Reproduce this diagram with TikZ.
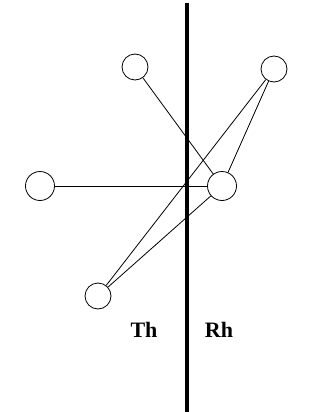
\documentclass[tikz,border=0pt]{standalone}
\usepackage{fontspec}
\newfontfamily\sidefont{Liberation Serif}
\begin{document}
\begin{tikzpicture}[
  x=1pt, y=-1pt,
  site/.style={draw, circle, minimum size=26pt, inner sep=0pt, line width=0.8pt},
  bigsite/.style={site, minimum size=29pt},
  link/.style={line width=0.8pt},
  wall/.style={line width=4pt},
  side/.style={font=\sidefont\fontsize{22}{22}\selectfont\bfseries}
]
\useasboundingbox (0,0) rectangle (321,412);
% the two halves
\coordinate (walltop) at (187,3);
\coordinate (wallbot) at (187,412);
\draw[wall] (walltop) -- (wallbot);
\node[side] (th) at (144,330) {Th};
\node[side] (rh) at (219,330) {Rh};
% sites
\node[site] (a) at (135,67) {};
\node[site] (b) at (274,69) {};
\node[bigsite] (c) at (40,186) {};
\node[bigsite] (d) at (222,186) {};
\node[site] (e) at (98,296) {};
% links
\draw[link] (c) -- (d);
\draw[link] (a) -- (d);
\draw[link] (b) -- (d);
\draw[link] (b) -- (e);
\draw[link] (d) -- (e);
\end{tikzpicture}
\end{document}
